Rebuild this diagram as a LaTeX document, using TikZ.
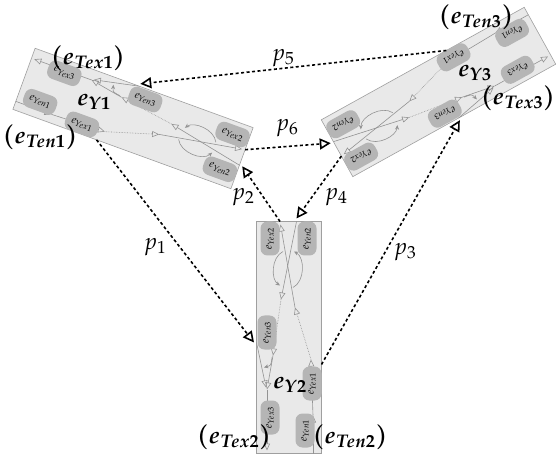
\documentclass[tikz,border=0pt]{standalone}
\usepackage{mathpazo}
\usepackage{xcolor}
\usetikzlibrary{arrows.meta}
\newcommand{\pname}[1]{$e_{Y#1}$}
% one road section Y, drawn in its own frame and turned into place
\newcommand{\junction}[4]{%
  \begin{scope}[shift={#2},rotate=#3,transform shape]
    \node[block] (#1) at (0,0) {};
    \draw[lane] (-116,-24) -- (-78,-24);
    \draw[lane] (-78,-24) -- (-22,-22);
    \draw[flow] (-22,-22) -- (30,-6);
    \draw[lane] (30,-6) -- (113,8.5);
    \draw[lane] (116,-7.5) -- (38,8);
    \draw[flow] (38,8) -- (-18,16);
    \draw[lane] (-18,16) -- (-52,22);
    \draw[lane] (-52,22) -- (-113,22);
    \draw[lane] (-5,32.5) -- (-50,23);
    \draw[turn] (86,6) .. controls (80,18) and (58,18) .. (52,9);
    \draw[turn] (50,-4) .. controls (56,-16) and (80,-16) .. (86,-5);
    \draw[turn] (-20,17) .. controls (-28,18) .. (-30,25);
    \node[port] (#1ex3) at (-80,19) {\pname{ex3}};
    \node[port] (#1en1) at (-93,-16) {\pname{en1}};
    \node[port] (#1en3) at (5,22) {\pname{en3}};
    \node[port] (#1ex1) at (#4,-23) {\pname{ex1}};
    \node[port] (#1ex2) at (99,19) {\pname{ex2}};
    \node[port] (#1en2) at (99,-18) {\pname{en2}};
    \coordinate (#1out1) at (-27,-32.5);
    \coordinate (#1out2) at (116,9);
    \coordinate (#1in2) at (119,-7.5);
    \coordinate (#1in3) at (-5,35);
  \end{scope}}

\begin{document}
\begin{tikzpicture}[x=1pt,y=1pt,
    block/.style={rectangle,draw=gray!75,fill=gray!17,line width=0.6pt,minimum width=232pt,minimum height=65pt,inner sep=0pt},
    port/.style={rectangle,rounded corners=7pt,fill=gray!58,minimum width=34pt,minimum height=19pt,inner sep=1pt,font=\fontsize{11}{12}\selectfont},
    lane/.style={draw=gray!85,line width=0.6pt,-{Triangle[open,length=7pt,width=6pt]}},
    flow/.style={lane,densely dotted},
    turn/.style={draw=gray!85,line width=0.6pt,-{Stealth[length=4.5pt,width=4pt]}},
    link/.style={line width=1.6pt,dash pattern=on 3pt off 2.5pt,-{Triangle[open,length=11pt,width=11pt]}},
    plabel/.style={font=\fontsize{23}{25}\selectfont},
    ylabel/.style={font=\fontsize{24}{26}\selectfont\boldmath,inner sep=0pt},
    tlabel/.style={font=\fontsize{24}{26}\selectfont\boldmath,inner sep=0pt}
  ]
  \useasboundingbox (0,0) rectangle (556,455);

  \junction{Y1}{(133,336.5)}{-20}{-46}
  \junction{Y2}{(289,117.5)}{90}{-46}
  \junction{Y3}{(438.5,363)}{209}{-30}

  \node[ylabel] (y1) at (94,353) {$e_{Y1}$};
  \node[ylabel] (y2) at (290,70) {$e_{Y2}$};
  \node[ylabel] (y3) at (475,382) {$e_{Y3}$};

  \node[tlabel] (tex1) at (88,397) {$(e_{Tex1})$};
  \node[tlabel] (ten1) at (40,318) {$(e_{Ten1})$};
  \node[tlabel] (ten3) at (476,438) {$(e_{Ten3})$};
  \node[tlabel] (tex3) at (518,357) {$(e_{Tex3})$};
  \node[tlabel] (tex2) at (234,18) {$(e_{Tex2})$};
  \node[tlabel] (ten2) at (350,18) {$(e_{Ten2})$};

  % Paths between sections
  \draw[link] (Y1out1) -- (Y2in3);
  \draw[link] (Y2out2) -- (Y1in2);
  \draw[link] (Y2out1) -- (Y3in3);
  \draw[link] (Y3out2) -- (Y2in2);
  \draw[link] (Y3out1) -- (Y1in3);
  \draw[link] (Y1out2) -- (Y3in2);

  \node[plabel] (p1) at (155,208) {$p_1$};
  \node[plabel] (p2) at (243,258) {$p_2$};
  \node[plabel] (p3) at (405,203) {$p_3$};
  \node[plabel] (p4) at (336,258) {$p_4$};
  \node[plabel] (p5) at (283,397) {$p_5$};
  \node[plabel] (p6) at (287,327) {$p_6$};
\end{tikzpicture}
\end{document}
